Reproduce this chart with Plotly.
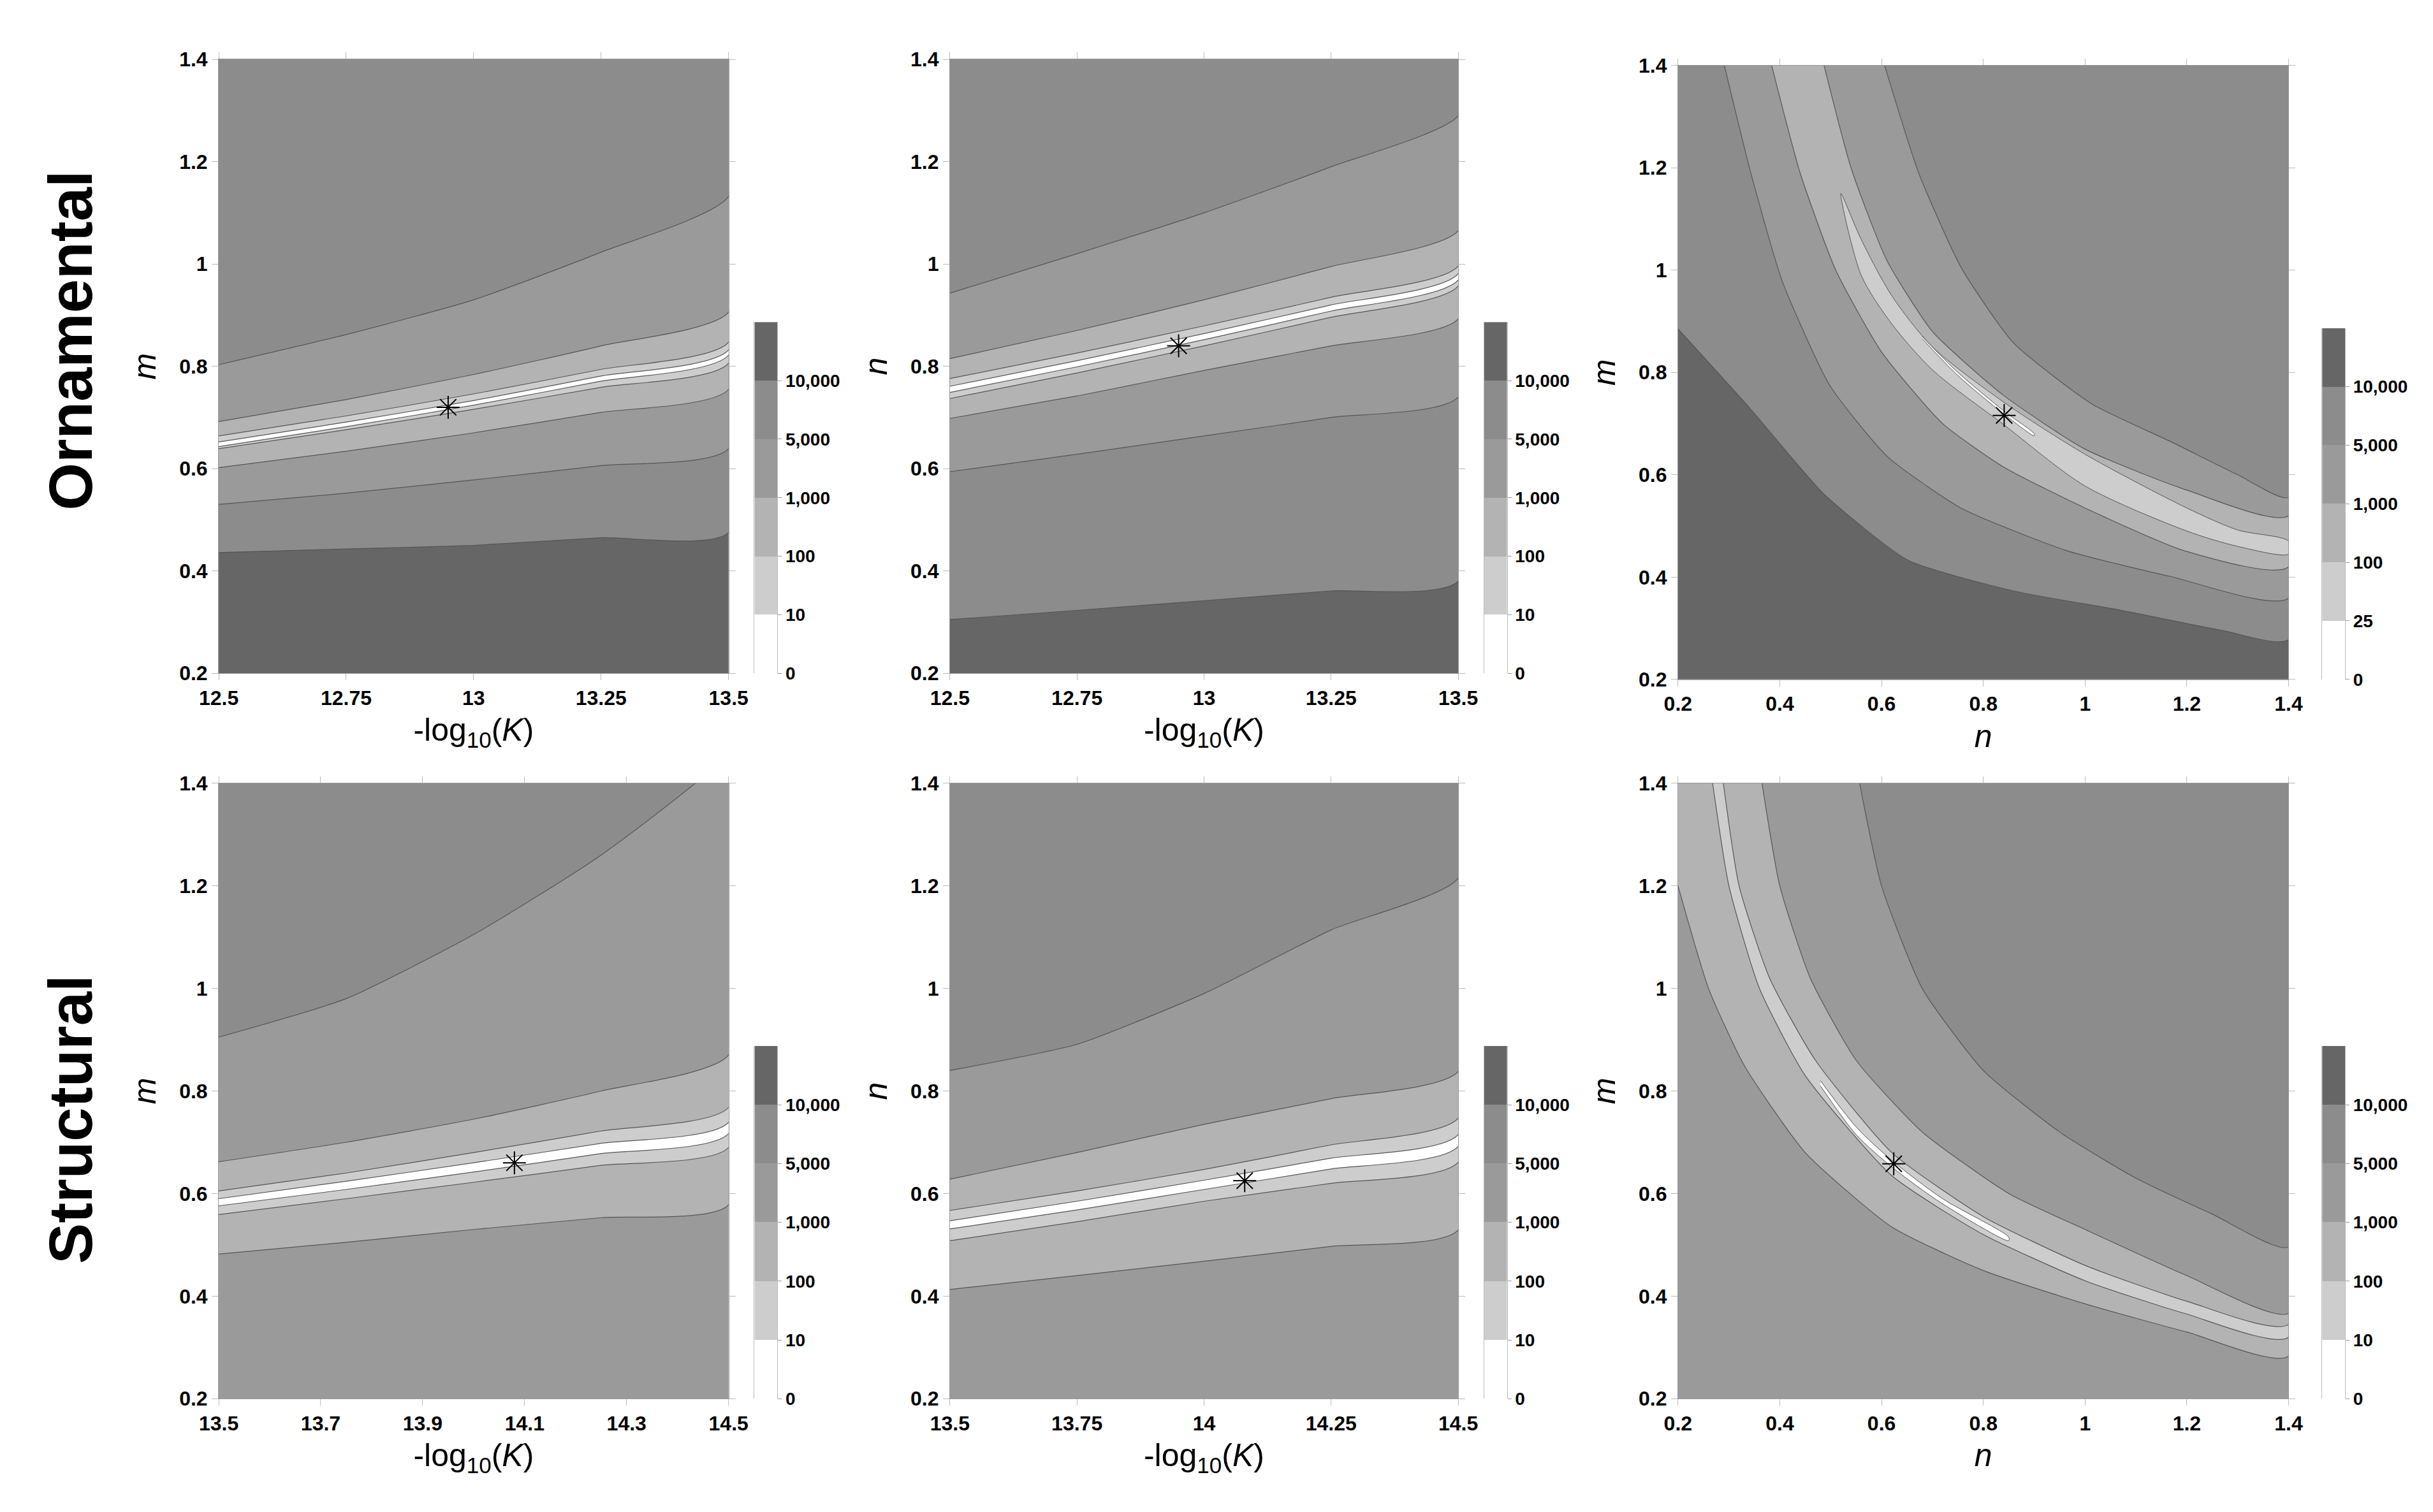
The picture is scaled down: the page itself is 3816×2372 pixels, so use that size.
import plotly.graph_objects as go

# renkler: 0-10, 10-100, 100-1000, 1000-5000, 5000-10000, >10000
renkler = ["#ffffff", "#cdcdcd", "#b3b3b3", "#9a9a9a", "#8c8c8c", "#666666"]
cb_etiket = ["0", "10", "100", "1,000", "5,000", "10,000"]
cb_etiket3 = ["0", "25", "100", "1,000", "5,000", "10,000"]

# Ornamental, m - log10(K)
p1_x = [12.5, 12.75, 13.0, 13.25, 13.5]
p1_egriler = [
    [0.436, 0.443, 0.450, 0.465, 0.475],
    [0.530, 0.552, 0.578, 0.606, 0.639],
    [0.602, 0.634, 0.670, 0.710, 0.755],
    [0.639, 0.676, 0.716, 0.759, 0.806],
    [0.643, 0.682, 0.724, 0.771, 0.822],
    [0.652, 0.691, 0.733, 0.781, 0.832],
    [0.664, 0.703, 0.746, 0.794, 0.847],
    [0.692, 0.735, 0.784, 0.840, 0.906],
    [0.803, 0.862, 0.930, 1.023, 1.132],
]
p1_renk = [5, 4, 3, 2, 1, 0, 1, 2, 3, 4]
p1_yildiz = (12.95, 0.72)

# Ornamental, n - log10(K)
p2_x = [12.5, 12.75, 13.0, 13.25, 13.5]
p2_egriler = [
    [0.305, 0.323, 0.342, 0.361, 0.380],
    [0.594, 0.628, 0.664, 0.700, 0.740],
    [0.698, 0.742, 0.792, 0.840, 0.893],
    [0.737, 0.787, 0.840, 0.896, 0.957],
    [0.749, 0.799, 0.852, 0.908, 0.969],
    [0.761, 0.811, 0.864, 0.920, 0.981],
    [0.776, 0.826, 0.879, 0.935, 0.996],
    [0.815, 0.870, 0.930, 0.995, 1.065],
    [0.943, 1.020, 1.100, 1.190, 1.290],
]
p2_renk = [5, 4, 3, 2, 1, 0, 1, 2, 3, 4]
p2_yildiz = (12.95, 0.84)

# Ornamental, m - n
p3_egriler = [
    ([0.2, 0.343, 0.487, 0.652, 0.859, 1.066, 1.273, 1.4],
     [0.885, 0.728, 0.562, 0.433, 0.373, 0.336, 0.295, 0.278]),
    ([0.291, 0.343, 0.405, 0.498, 0.611, 0.756, 0.963, 1.169, 1.4],
     [1.4, 1.19, 0.978, 0.775, 0.636, 0.535, 0.452, 0.401, 0.359]),
    ([0.384, 0.44, 0.51, 0.6, 0.72, 0.84, 1.0, 1.2, 1.4],
     [1.4, 1.19, 1.0, 0.84, 0.70, 0.615, 0.535, 0.45, 0.42]),
    ([0.487, 0.54, 0.61, 0.7, 0.84, 1.0, 1.2, 1.4],
     [1.4, 1.2, 1.02, 0.88, 0.755, 0.65, 0.57, 0.52]),
    ([0.606, 0.673, 0.756, 0.859, 1.014, 1.17, 1.3, 1.4],
     [1.4, 1.19, 1.006, 0.858, 0.738, 0.664, 0.60, 0.556]),
]
p3_renk = [5, 4, 3, 2, 3, 4]
p3_ada_x = [0.52, 0.56, 0.62, 0.70, 0.84, 1.0, 1.2, 1.3, 1.4, 1.4, 1.3, 1.2, 1.0, 0.84, 0.70, 0.62, 0.56, 0.52]
p3_ada_y = [1.15, 1.06, 0.95, 0.85, 0.742, 0.64, 0.535, 0.492, 0.47, 0.445, 0.46, 0.49, 0.578, 0.698, 0.805, 0.895, 0.99, 1.15]
p3_beyaz_x = [0.68, 0.75, 0.84, 0.90, 0.90, 0.84, 0.75, 0.68]
p3_beyaz_y = [0.87, 0.80, 0.725, 0.68, 0.676, 0.719, 0.794, 0.866]
p3_yildiz = (0.841, 0.716)

# Structural, m - log10(K)
p4_x = [13.5, 13.75, 14.0, 14.25, 14.5]
p4_egriler = [
    [0.482, 0.505, 0.530, 0.553, 0.578],
    [0.559, 0.590, 0.622, 0.655, 0.690],
    [0.576, 0.608, 0.642, 0.678, 0.717],
    [0.590, 0.624, 0.660, 0.698, 0.739],
    [0.605, 0.640, 0.680, 0.722, 0.768],
    [0.662, 0.700, 0.745, 0.800, 0.870],
    [0.905, 0.980, 1.105, 1.260, 1.460],
]
p4_renk = [3, 2, 1, 0, 1, 2, 3, 4]
p4_yildiz = (14.08, 0.66)

# Structural, n - log10(K)
p5_x = [13.5, 13.75, 14.0, 14.25, 14.5]
p5_egriler = [
    [0.413, 0.440, 0.468, 0.497, 0.529],
    [0.508, 0.545, 0.585, 0.620, 0.661],
    [0.531, 0.568, 0.608, 0.648, 0.692],
    [0.547, 0.585, 0.626, 0.669, 0.715],
    [0.567, 0.605, 0.647, 0.695, 0.747],
    [0.628, 0.680, 0.735, 0.785, 0.838],
    [0.840, 0.891, 0.990, 1.114, 1.215],
]
p5_renk = [3, 2, 1, 0, 1, 2, 3, 4]
p5_yildiz = (14.08, 0.625)

# Structural, m - n
p6_egriler = [
    ([0.2, 0.26, 0.33, 0.45, 0.62, 0.8, 1.0, 1.2, 1.4],
     [1.2, 1.0, 0.85, 0.68, 0.535, 0.45, 0.385, 0.33, 0.283]),
    ([0.268, 0.3, 0.36, 0.45, 0.62, 0.8, 1.0, 1.2, 1.4],
     [1.4, 1.2, 1.0, 0.83, 0.635, 0.52, 0.43, 0.365, 0.32]),
    ([0.289, 0.32, 0.38, 0.47, 0.62, 0.8, 1.0, 1.2, 1.4],
     [1.4, 1.2, 1.02, 0.86, 0.68, 0.555, 0.46, 0.39, 0.345]),
    ([0.365, 0.4, 0.46, 0.55, 0.68, 0.85, 1.0, 1.2, 1.4],
     [1.4, 1.2, 1.02, 0.86, 0.72, 0.60, 0.53, 0.44, 0.367]),
    ([0.557, 0.6, 0.68, 0.8, 0.95, 1.1, 1.25, 1.4],
     [1.4, 1.2, 1.0, 0.84, 0.72, 0.63, 0.56, 0.496]),
]
p6_renk = [3, 2, 1, 2, 3, 4]
p6_beyaz_x = [0.48, 0.55, 0.62, 0.72, 0.85, 0.85, 0.72, 0.62, 0.55, 0.48]
p6_beyaz_y = [0.82, 0.73, 0.665, 0.59, 0.515, 0.508, 0.58, 0.652, 0.715, 0.81]
p6_yildiz = (0.624, 0.658)

fig = go.Figure()
CIZGI = dict(color="#555555", width=1.2, shape="spline", smoothing=0.55)


def katman(no, xs, ys, renk):
    # egrinin ustunde kalan bolgeyi boyar, sirayla ustuste binerler
    px = list(xs) + [xs[-1], xs[0]]
    py = list(ys) + [1.5, 1.5]
    fig.add_trace(go.Scatter(x=px, y=py, fill="toself", fillcolor=renk, mode="lines",
                             line=CIZGI, xaxis="x%d" % no, yaxis="y%d" % no,
                             hoverinfo="skip", showlegend=False))


def panel(no, xmin, xmax, egriler, renk_sira):
    # taban
    fig.add_trace(go.Scatter(x=[xmin - 1, xmax + 1, xmax + 1, xmin - 1], y=[-1, -1, 3, 3],
                             fill="toself", fillcolor=renkler[renk_sira[0]], mode="lines",
                             line=dict(width=0), xaxis="x%d" % no, yaxis="y%d" % no,
                             hoverinfo="skip", showlegend=False))
    for (xs, ys), r in zip(egriler, renk_sira[1:]):
        katman(no, xs, ys, renkler[r])


panel(1, 12.5, 13.5, [(p1_x, e) for e in p1_egriler], p1_renk)
panel(2, 12.5, 13.5, [(p2_x, e) for e in p2_egriler], p2_renk)
panel(3, 0.2, 1.4, p3_egriler, p3_renk)
panel(4, 13.5, 14.5, [(p4_x, e) for e in p4_egriler], p4_renk)
panel(5, 13.5, 14.5, [(p5_x, e) for e in p5_egriler], p5_renk)
panel(6, 0.2, 1.4, p6_egriler, p6_renk)

for no, ax, ay, r in [(3, p3_ada_x, p3_ada_y, renkler[1]), (3, p3_beyaz_x, p3_beyaz_y, "white"),
                      (6, p6_beyaz_x, p6_beyaz_y, "white")]:
    fig.add_trace(go.Scatter(x=ax, y=ay, fill="toself", fillcolor=r, mode="lines",
                             line=dict(color="#555555", width=1, shape="spline", smoothing=0.8),
                             xaxis="x%d" % no, yaxis="y%d" % no, hoverinfo="skip", showlegend=False))

for no, yz in enumerate([p1_yildiz, p2_yildiz, p3_yildiz, p4_yildiz, p5_yildiz, p6_yildiz], start=1):
    fig.add_trace(go.Scatter(x=[yz[0]], y=[yz[1]], mode="markers",
                             marker=dict(symbol="asterisk-open", size=30, color="black",
                                         line=dict(color="black", width=2)),
                             xaxis="x%d" % no, yaxis="y%d" % no, showlegend=False))

# renk cubuklari
for no in range(7, 13):
    fig.add_trace(go.Heatmap(z=[[0], [1], [2], [3], [4], [5]], x=[0], y=[0.5, 1.5, 2.5, 3.5, 4.5, 5.5],
                             colorscale=[[i / 5, c] for i, c in enumerate(renkler)], zmin=0, zmax=5,
                             showscale=False, xaxis="x%d" % no, yaxis="y%d" % no, hoverinfo="skip"))

W, H = 1568.0, 975.0
panel_x = [(127, 461), (606, 939), (1083, 1483), (127, 461), (606, 939), (1083, 1483)]
panel_y = [(28, 430), (28, 430), (32, 434), (502, 905), (502, 905), (502, 905)]
cb_x = [(478, 493), (956, 971), (1505, 1520), (478, 493), (956, 971), (1505, 1520)]
cb_y = [(200, 430), (200, 430), (204, 434), (674, 905), (674, 905), (674, 905)]
x_aralik = [(12.5, 13.5), (12.5, 13.5), (0.2, 1.4), (13.5, 14.5), (13.5, 14.5), (0.2, 1.4)]
x_tik = [[12.5, 12.75, 13, 13.25, 13.5], [12.5, 12.75, 13, 13.25, 13.5],
         [0.2, 0.4, 0.6, 0.8, 1, 1.2, 1.4], [13.5, 13.7, 13.9, 14.1, 14.3, 14.5],
         [13.5, 13.75, 14, 14.25, 14.5], [0.2, 0.4, 0.6, 0.8, 1, 1.2, 1.4]]
x_baslik = ["-log<sub>10</sub>(<i>K</i>)", "-log<sub>10</sub>(<i>K</i>)", "<i>n</i>",
            "-log<sub>10</sub>(<i>K</i>)", "-log<sub>10</sub>(<i>K</i>)", "<i>n</i>"]
y_baslik = ["<i>m</i>", "<i>n</i>", "<i>m</i>", "<i>m</i>", "<i>n</i>", "<i>m</i>"]
cb_list = [cb_etiket, cb_etiket, cb_etiket3, cb_etiket, cb_etiket, cb_etiket]

TIKFONT = dict(family="Liberation Sans", size=32, color="black", weight="bold")
BASFONT = dict(family="Liberation Sans", size=50, color="black")
layout = {}
for i in range(6):
    n = i + 1
    layout["xaxis%d" % n] = dict(domain=[panel_x[i][0] / W, panel_x[i][1] / W], anchor="y%d" % n,
                                 range=list(x_aralik[i]), tickvals=x_tik[i],
                                 ticktext=[("%g" % v) for v in x_tik[i]],
                                 ticks="outside", ticklen=10, tickcolor="#bbbbbb", mirror="ticks",
                                 showline=True, linecolor="#999999", showgrid=False, zeroline=False,
                                 tickfont=TIKFONT, title=dict(text=x_baslik[i], font=BASFONT, standoff=15))
    layout["yaxis%d" % n] = dict(domain=[1 - panel_y[i][1] / H, 1 - panel_y[i][0] / H], anchor="x%d" % n,
                                 range=[0.2, 1.4], tickvals=[0.2, 0.4, 0.6, 0.8, 1, 1.2, 1.4],
                                 ticktext=["0.2", "0.4", "0.6", "0.8", "1", "1.2", "1.4"],
                                 ticks="outside", ticklen=10, tickcolor="#bbbbbb", mirror="ticks",
                                 showline=True, linecolor="#999999", showgrid=False, zeroline=False,
                                 tickfont=TIKFONT, title=dict(text=y_baslik[i], font=BASFONT, standoff=20))
    c = i + 7
    layout["xaxis%d" % c] = dict(domain=[cb_x[i][0] / W, cb_x[i][1] / W], anchor="y%d" % c,
                                 visible=False, range=[-0.5, 0.5])
    layout["yaxis%d" % c] = dict(domain=[1 - cb_y[i][1] / H, 1 - cb_y[i][0] / H], anchor="x%d" % c,
                                 side="right", range=[0, 6], tickvals=[0, 1, 2, 3, 4, 5],
                                 ticktext=cb_list[i], ticks="outside", ticklen=6, tickcolor="#999999",
                                 showline=True, linecolor="#bbbbbb", mirror=True, showgrid=False,
                                 zeroline=False, tickfont=dict(family="Liberation Sans", size=28,
                                                               color="black", weight="bold"))

fig.update_layout(**layout)
fig.update_layout(width=3816, height=2372, margin=dict(l=0, r=0, t=0, b=0),
                  paper_bgcolor="white", plot_bgcolor="white",
                  annotations=[
                      dict(text="<b>Ornamental</b>", x=30 / W, y=1 - 212 / H, xref="paper", yref="paper",
                           xanchor="center", yanchor="middle", textangle=-90, showarrow=False,
                           font=dict(family="Liberation Sans", size=96, color="black")),
                      dict(text="<b>Structural</b>", x=30 / W, y=1 - 722 / H, xref="paper", yref="paper",
                           xanchor="center", yanchor="middle", textangle=-90, showarrow=False,
                           font=dict(family="Liberation Sans", size=96, color="black")),
                  ])
fig.write_html("out.html")
